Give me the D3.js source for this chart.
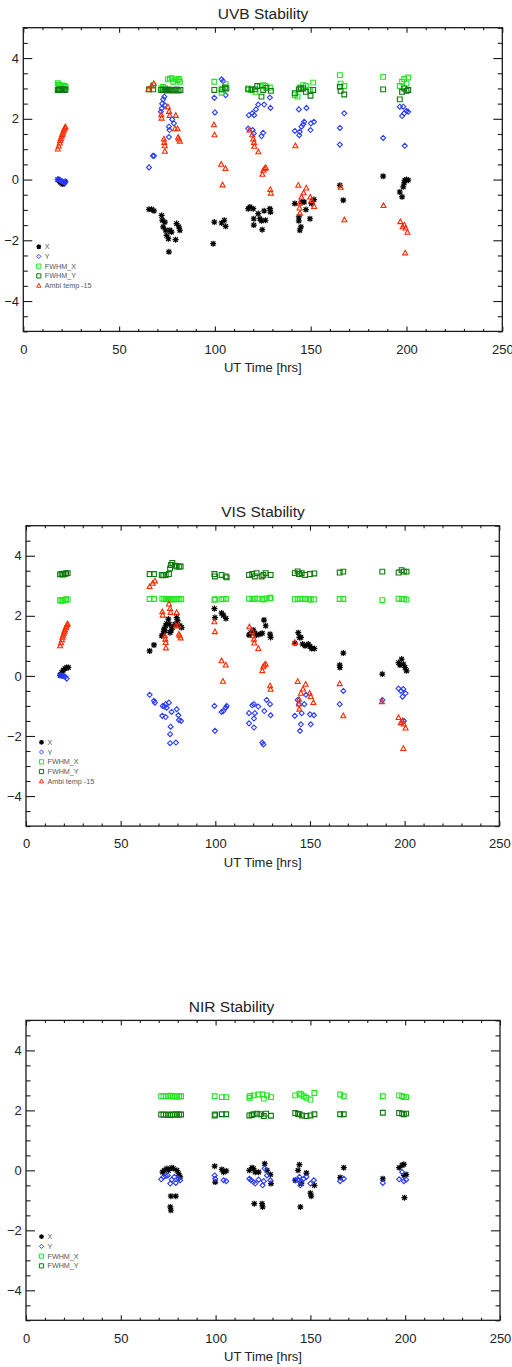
<!DOCTYPE html>
<html>
<head>
<meta charset="utf-8">
<script src="https://cdn.jsdelivr.net/npm/d3@7"></script>
<style>
  body { margin: 0; background: #fff; }
  svg { display: block; font-family: "Liberation Sans", Arial, Helvetica, sans-serif; }
</style>
</head>
<body>
<svg id="chart" width="512" height="1367"></svg>
<script>
// [time (hrs), value] pairs
const ambiTemp = [[18,1.0],[18.5,1.1],[19,1.2],[19.3,1.28],[19.6,1.35],[20,1.42],[20.3,1.48],[20.6,1.53],[21,1.6],[21.3,1.65],[21.7,1.7],[22,1.73],
  [65.3,2.97],[66.9,3.08],[68.1,3.16],
  [72,2.13],[72.2,2.02],[73.4,1.33],[73.6,1.22],[73.8,1.11],[73.9,0.93],[75.5,2.39],[76.1,2.24],[76.4,2.11],[79.2,1.67],[79.6,2.11],[80.5,1.67],[80.8,1.39],[81.2,1.33],[81.7,1.26],
  [99.5,1.8],[99.8,1.47],[103.3,0.5],[104,-0.18],[105.5,0.36],
  [118,1.63],[119.5,1.47],[120,1.33],[120.4,1.22],[120.6,1.09],[122.7,0.91],[124.8,0.17],[125.3,0.3],[125.9,0.36],[126.6,0.39],[128.9,-0.33],[129.2,-0.45],
  [142,1.11],[143.5,-0.19],[144.2,-0.78],[144.2,-0.94],[144.4,-1.11],[145.2,-0.58],[146.3,-0.44],[147.7,-0.28],[149.8,-0.58],[150.4,-0.69],[151.8,-0.89],
  [165.7,-0.26],[167.6,-1.33],
  [188,-0.86],
  [196.8,-1.39],[198,-1.56],[198.9,-1.5],[199.3,-2.42],[199.5,-1.6],[200.5,-1.74]];

const uvbX = [[18,0],[18.7,-0.04],[19.4,-0.08],[20,-0.12],[20.6,-0.15],[21.2,-0.12],[21.8,-0.08],
  [65.6,-0.98],[67,-0.98],[68.2,-1.03],[72.2,-1.18],[72.5,-1.34],[73,-1.56],[73.9,-1.4],[74.3,-1.67],[74.8,-1.84],[75.7,-1.95],[76,-2.38],[76.5,-1.67],[77.4,-1.73],[79.5,-1.98],[80,-1.45],[81.2,-1.56],[81.7,-1.67],
  [99.1,-2.11],[99.7,-1.4],[103.5,-1.43],[104.9,-1.34],[105.6,-1.54],
  [117.4,-0.96],[118.3,-0.9],[120,-0.96],[120.3,-1.29],[120.3,-1.5],[122.6,-1.12],[123.5,-1.29],[124.3,-1.36],[124.7,-1.65],[125.7,-1.03],[126.4,-1.34],[128.7,-0.96],[129,-1.07],
  [141.7,-0.79],[143.8,-1.23],[143.8,-1.36],[144.3,-1.67],[144.9,-1.56],[145.2,-0.74],[146.6,-0.74],[147.5,-0.99],[149.6,-1.29],[150.4,-0.79],[151.7,-0.66],
  [165.2,-0.19],[167,-0.68],
  [187.8,0.11],
  [196.5,-0.41],[197.7,-0.57],[198.3,-0.24],[198.8,-0.11],[199.1,-0.02],[200,0],[200.9,-0.02]];
const uvbY = [[18,0],[18.5,0.01],[19,-0.02],[19.5,-0.03],[20,-0.05],[20.5,-0.07],[21,-0.09],[21.5,-0.1],[22,-0.06],
  [65.6,0.4],[67.7,0.78],[68.2,0.78],[71.8,2.23],[72.2,2.34],[72.5,2.5],[73,2.64],[73.6,2.73],[73.9,2.45],[76,1.74],[76.3,1.63],[76,1.4],[77.7,1.98],[78.6,1.85],
  [99.7,2.69],[100,2.21],[103.5,3.3],[104.3,3.24],[105.6,2.78],
  [117.4,1.68],[117.7,2.12],[119.5,2.18],[119.7,1.63],[120.3,1.52],[120.5,2.12],[121.4,2.31],[122.6,2.47],[124.3,1.43],[125.2,1.54],[125.7,2.47],[128.7,2.7],[129,2.36],
  [141.7,1.6],[143.8,2.31],[144,1.46],[144.3,1.57],[145.2,1.74],[146.1,1.82],[146.6,1.9],[147.8,2.36],[149.9,1.63],[150.1,1.85],[151.7,1.9],
  [165.2,1.7],[165.2,1.15],[167.5,2.18],
  [187.8,1.37],
  [196.5,2.4],[197.7,2.09],[198.3,2.4],[198.8,2.18],[199.1,1.11],[200,2.26],[200.9,2.23]];
const uvbFwhmX = [[18,3.17],[18.6,3.12],[19.2,3.1],[19.8,3.08],[20.4,3.1],[21,3.06],[21.6,3.08],[22,3.05],
  [65.6,2.97],[67.8,3.1],[72,3.0],[73,3.05],[74,3.0],[75.5,3.3],[76.5,3.32],[77.5,3.34],[78.3,3.22],[79.5,3.3],[80.5,3.27],[81.2,3.31],[81.7,3.22],
  [99.7,3.22],[103.5,2.86],[104.3,2.97],[105.6,3.14],
  [117.4,3.0],[119.1,2.95],[121.2,2.89],[123.5,3.08],[125.2,3.11],[126.4,3.08],[128.7,3.03],
  [141.7,2.78],[143.1,2.73],[144.3,3.03],[146.1,3.11],[147.5,3.08],[149.6,2.95],[151.3,3.19],
  [165.2,3.44],[165.6,3.16],[167.5,3.08],
  [187.8,3.38],
  [196.5,3.08],[197.7,3.22],[198.8,3.31],[200,3.16],[200.9,3.36]];
const uvbFwhmY = [[18,2.95],[18.6,2.97],[19.2,2.95],[19.8,2.97],[20.4,2.95],[21,2.97],[21.6,2.95],[22,2.97],
  [65.6,2.97],[67.8,2.97],[72,2.95],[73,2.97],[74,2.95],[75,2.93],[76,2.97],[77,2.95],[78,2.93],[79,2.95],[80,2.97],[81,2.93],[82,2.95],
  [99.7,2.95],[103.5,2.97],[105.2,3.03],[106,3.0],
  [117.4,2.97],[119.1,2.97],[120.9,2.97],[122.1,3.08],[124.3,2.73],[125.2,2.95],[126.9,3.02],[129.2,2.92],
  [141.7,2.84],[143.8,2.97],[144.9,3.0],[146.1,3.0],[147.5,2.89],[149.9,2.76],[151.3,2.95],
  [165.2,3.05],[165.6,2.92],[167.5,2.8],
  [187.8,2.97],
  [196.5,2.64],[197.7,2.89],[198.8,3.0],[200,2.92],[200.9,2.95]];

const visX = [[18,0.02],[18.8,0.11],[19.7,0.19],[20.6,0.24],[21.5,0.28],[22.4,0.28],
  [65.3,0.83],[67.6,1.03],[71.7,1.33],[72.5,1.42],[72.9,1.56],[73.4,1.5],[73.8,1.67],[74.3,1.74],[75.2,1.89],[75.7,1.72],[76.1,1.44],[76.6,1.5],[77.3,1.61],[78.7,1.72],[79.6,1.94],[80.1,1.83],[81.3,1.67],[82.2,1.61],
  [99.5,2.24],[99.8,1.94],[103.3,2.09],[104.2,2.02],[105.6,1.91],
  [117.8,1.36],[118.7,1.44],[120,1.53],[120.9,1.42],[121.8,1.36],[123.6,1.39],[124.8,1.42],[125.7,1.86],[126.6,1.67],[128.9,1.39],[129.2,1.28],
  [142,1.09],[143.8,1.44],[144.4,1.28],[145.2,1.28],[146.1,1.06],[147.4,1.0],[149.1,1.06],[150,0.98],[150.9,0.91],[152.3,0.91],
  [165.7,0.36],[165.8,0.28],[167.6,0.76],
  [188.2,0.06],
  [196.8,0.44],[197.5,0.36],[198.4,0.56],[199.3,0.39],[200.2,0.28],[201,0.17]];
const visY = [[18,0.02],[18.7,0.01],[19.4,0],[20.1,-0.01],[20.8,-0.03],[21.5,-0.09],
  [65.3,-0.63],[67.6,-0.83],[68.1,-0.89],[72,-1.33],[72.2,-1.0],[73.1,-1.02],[73.8,-0.94],[73.8,-1.37],[74.3,-1.06],[75.5,-0.89],[76.1,-1.94],[76.1,-2.24],[76.4,-1.69],[76.9,-1.2],[79.2,-2.22],[79.6,-1.11],[80.5,-1.31],[80.8,-1.47],[81.9,-1.5],
  [99.5,-1.0],[99.8,-1.83],[103.3,-1.2],[104.2,-1.17],[105.5,-1.06],[106,-1.0],
  [117.8,-1.24],[117.8,-1.58],[119.5,-0.98],[120.4,-0.94],[120.4,-1.42],[120.4,-1.72],[120.9,-1.24],[122.7,-1.02],[124.8,-2.22],[125.4,-2.28],[125.9,-1.17],[127.1,-0.8],[128.9,-0.94],[129.2,-1.31],
  [142,-1.33],[143.5,-0.8],[144.2,-0.94],[144.7,-1.83],[145.2,-1.61],[145.6,-1.24],[147,-0.94],[147.9,-0.63],[150,-1.28],[150.4,-1.61],[152.1,-1.31],
  [165.7,-0.94],[167.6,-0.5],
  [188.2,-0.8],
  [196.8,-0.42],[198,-0.5],[198.9,-0.69],[199.3,-0.44],[199.6,-1.5],[200.5,-0.58]];
const visFwhmX = [[18,2.52],[18.8,2.5],[19.6,2.53],[20.4,2.52],[21.2,2.55],[22,2.54],
  [65.3,2.56],[67.6,2.56],[72,2.57],[73,2.56],[74,2.55],[75,2.56],[76,2.55],[77,2.54],[78,2.55],[79,2.56],[80,2.55],[81,2.56],[82,2.55],
  [99.5,2.53],[100,2.55],[103.3,2.55],[104.3,2.56],[105.6,2.56],
  [117.8,2.57],[119.5,2.56],[120.9,2.57],[122.7,2.57],[124.8,2.55],[125.9,2.55],[127.1,2.58],[128.9,2.6],[129.2,2.58],
  [142,2.55],[143.5,2.56],[144.7,2.56],[145.6,2.57],[147.4,2.56],[149.1,2.55],[150.4,2.54],[152.1,2.55],
  [165.7,2.56],[167.6,2.56],
  [188.2,2.52],
  [196.8,2.57],[198.4,2.56],[199.6,2.56],[201,2.54]];
const visFwhmY = [[18,3.38],[18.8,3.39],[19.6,3.37],[20.4,3.4],[21.2,3.41],[22,3.42],
  [65.3,3.39],[67.6,3.39],[71.7,3.36],[72.5,3.35],[73.8,3.36],[75.5,3.39],[76.1,3.58],[76.6,3.69],[77.3,3.76],[78.7,3.67],[79.6,3.64],[80.8,3.64],[81.7,3.64],
  [99.5,3.39],[99.8,3.31],[103.3,3.36],[105.5,3.31],[106,3.28],
  [117.8,3.36],[119.5,3.39],[120.9,3.31],[121.8,3.42],[124.5,3.31],[125.4,3.36],[126.6,3.42],[129.2,3.36],
  [142,3.42],[143.5,3.48],[144.2,3.39],[145.6,3.42],[147.4,3.36],[150,3.39],[152.3,3.41],
  [165.7,3.44],[167.6,3.47],
  [188.2,3.47],
  [196.8,3.44],[198.4,3.52],[199.6,3.47],[201,3.47]];

const nirX = [[72,-0.06],[72.9,0],[74.3,0.06],[75.2,0],[76.1,-1.22],[76.4,-1.33],[76.4,-0.86],[76.9,0.09],[77.8,0.06],[79,-0.86],[79.6,0],[80.5,-0.11],[81.3,-0.22],
  [99.5,0.14],[99.8,-0.39],[103.3,0.03],[104.2,-0.06],[105.6,-0.02],
  [117.8,0],[119.2,0.09],[120,0.06],[120.4,-1.11],[120.9,-0.06],[122.7,-0.06],[124.5,-1.11],[124.8,-1.22],[125.9,0.22],[127.1,0],[128.9,-0.14],[129.2,-0.44],
  [142,-0.33],[143.5,0],[144.2,0.19],[144.7,-1.22],[145.2,-0.44],[147.9,-0.09],[150,-0.76],[150.4,-0.86],[152.1,-0.5],
  [165.7,-0.24],[167.6,0.09],
  [188.2,-0.28],
  [196.8,0.09],[198.4,0.17],[199.3,0.2],[199.3,-0.17],[199.6,-0.91],[200.5,-0.14]];
const nirY = [[71.3,-0.3],[72.5,-0.22],[73.8,-0.19],[74.8,-0.17],[76.1,-0.44],[76.9,-0.31],[78.2,-0.22],[79,-0.42],[80.5,-0.28],[81.3,-0.33],
  [99.5,-0.17],[99.8,-0.28],[104.2,-0.33],[105.6,-0.36],
  [117.8,-0.28],[118.7,-0.33],[120,-0.39],[120.9,-0.44],[122.7,-0.31],[124.8,-0.5],[125.4,-0.36],[125.9,0.06],[127.1,-0.17],[128.9,-0.33],
  [142,-0.33],[143.5,-0.31],[144.2,-0.22],[144.7,-0.5],[145.2,-0.39],[146.5,-0.28],[147.9,-0.22],[150,-0.44],[151.8,-0.33],
  [165.7,-0.36],[167.6,-0.28],
  [188.2,-0.42],
  [196.8,-0.3],[198.4,-0.06],[199.3,-0.36],[200.5,-0.31]];
const nirFwhmX = [[71.3,2.47],[72.5,2.47],[73.8,2.48],[75,2.47],[76.1,2.49],[77.3,2.47],[78.5,2.46],[79.6,2.47],[80.8,2.46],[81.8,2.47],
  [99.5,2.47],[103.3,2.44],[105.6,2.44],
  [117.8,2.42],[118.2,2.48],[120,2.5],[122.7,2.53],[124.8,2.53],[125.4,2.39],[127.1,2.5],[129.2,2.44],
  [142,2.5],[144.2,2.56],[145.2,2.53],[146.5,2.47],[147.9,2.42],[150,2.36],[152.1,2.58],
  [165.7,2.53],[167.6,2.47],
  [188.2,2.47],
  [196.8,2.5],[198.4,2.47],[199.3,2.44],[200.5,2.44]];
const nirFwhmY = [[71.3,1.86],[72.5,1.86],[73.8,1.85],[75,1.86],[76.1,1.84],[77.3,1.86],[78.5,1.86],[79.6,1.86],[80.8,1.86],[81.8,1.86],
  [99.5,1.83],[99.8,1.86],[103.3,1.87],[105.6,1.87],
  [117.8,1.83],[119,1.84],[120,1.87],[121.8,1.89],[123.6,1.87],[125.4,1.81],[126.6,1.89],[129.2,1.82],
  [142,1.91],[143.5,1.88],[144.2,1.87],[145.6,1.83],[147.9,1.81],[150,1.83],[152.1,1.87],
  [165.7,1.87],[167.6,1.87],
  [188.2,1.92],
  [196.8,1.91],[198.4,1.89],[199.3,1.87],[200.5,1.89]];

const xTicks = [0, 50, 100, 150, 200, 250];
const yTicks = [-4, -2, 0, 2, 4];
const seriesNames = ["X", "Y", "FWHM_X", "FWHM_Y", "Ambi temp -15"];

// marker styles, in legend order
const styles = {
  "X":             {shape: "star",     color: "#000000"},
  "Y":             {shape: "diamond",  color: "#2a3cff"},
  "FWHM_X":        {shape: "square",   color: "#22e622"},
  "FWHM_Y":        {shape: "square",   color: "#0b7a0b"},
  "Ambi temp -15": {shape: "triangle", color: "#ff2a00"}
};

function markerPath(shape, s) {
  if (shape === "star") {
    const d = s * 0.75;
    return `M${-s},0H${s}M0,${-s}V${s}M${-d},${-d}L${d},${d}M${-d},${d}L${d},${-d}`;
  }
  if (shape === "diamond") return `M0,${-s}L${s},0L0,${s}L${-s},0Z`;
  if (shape === "square") return `M${-s},${-s}H${s}V${s}H${-s}Z`;
  return `M0,${-s * 1.1}L${s},${s * 0.75}L${-s},${s * 0.75}Z`;
}

const panels = [
  {title: "UVB Stability", left: 23.3, right: 502.3, top: 27.7, bottom: 331.4, titleX: 263,
   series: {"X": uvbX, "Y": uvbY, "FWHM_X": uvbFwhmX, "FWHM_Y": uvbFwhmY, "Ambi temp -15": ambiTemp}},
  {title: "VIS Stability", left: 26, right: 499.3, top: 525.7, bottom: 826.1, titleX: 263,
   series: {"X": visX, "Y": visY, "FWHM_X": visFwhmX, "FWHM_Y": visFwhmY, "Ambi temp -15": ambiTemp}},
  {title: "NIR Stability", left: 26, right: 500, top: 1020.4, bottom: 1320.3, titleX: 231.5,
   series: {"X": nirX, "Y": nirY, "FWHM_X": nirFwhmX, "FWHM_Y": nirFwhmY}}
];

const svg = d3.select("#chart");
const axisColor = "#1a1a1a";

panels.forEach(p => {
  const g = svg.append("g");
  const x = d3.scaleLinear().domain([0, 250]).range([p.left, p.right]);
  const y = d3.scaleLinear().domain([-5, 5]).range([p.bottom, p.top]);
  const w = p.right - p.left, h = p.bottom - p.top;

  // ticks on all four sides, IDL style
  const bottomAxis = d3.axisBottom(x).tickValues(xTicks).tickSize(-5).tickFormat(d3.format("d")).tickPadding(13);
  const topAxis = d3.axisTop(x).tickValues(xTicks).tickSize(-5).tickFormat("");
  const leftAxis = d3.axisLeft(y).tickValues(yTicks).tickSize(-9).tickFormat(d3.format("d")).tickPadding(4.3);
  const rightAxis = d3.axisRight(y).tickValues(yTicks).tickSize(-9).tickFormat("");

  const xMinor = d3.range(0, 251, 10).filter(v => v % 50 !== 0);
  const yMinor = d3.range(-5, 5.01, 0.5).filter(v => Math.abs(v % 2) > 1e-9);
  const bMinor = d3.axisBottom(x).tickValues(xMinor).tickSize(-2.5).tickFormat("");
  const tMinor = d3.axisTop(x).tickValues(xMinor).tickSize(-2.5).tickFormat("");
  const lMinor = d3.axisLeft(y).tickValues(yMinor).tickSize(-4.5).tickFormat("");
  const rMinor = d3.axisRight(y).tickValues(yMinor).tickSize(-4.5).tickFormat("");

  [[bottomAxis, 0, p.bottom], [bMinor, 0, p.bottom], [topAxis, 0, p.top], [tMinor, 0, p.top],
   [leftAxis, p.left, 0], [lMinor, p.left, 0], [rightAxis, p.right, 0], [rMinor, p.right, 0]]
    .forEach(([ax, tx, ty]) => {
      const a = g.append("g").attr("transform", `translate(${tx},${ty})`).call(ax);
      a.select(".domain").remove();
      a.selectAll(".tick line").attr("stroke", axisColor).attr("stroke-width", 1.1);
      a.selectAll(".tick text").attr("fill", "#222").attr("font-size", 13);
    });

  g.append("rect")
    .attr("x", p.left).attr("y", p.top).attr("width", w).attr("height", h)
    .attr("fill", "none").attr("stroke", axisColor).attr("stroke-width", 1.3);

  g.append("text")
    .attr("x", p.titleX).attr("y", p.top - 8.5)
    .attr("text-anchor", "middle").attr("font-size", 15.5).attr("fill", "#222")
    .text(p.title);

  g.append("text")
    .attr("x", (p.left + p.right) / 2).attr("y", p.bottom + 41)
    .attr("text-anchor", "middle").attr("font-size", 13).attr("fill", "#222")
    .text("UT Time [hrs]");

  // points
  const names = seriesNames.filter(n => p.series[n]);
  names.forEach(n => {
    const st = styles[n];
    const size = st.shape === "star" ? 3 : (st.shape === "square" ? 2.4 : 2.5);
    g.append("g").selectAll("path")
      .data(p.series[n])
      .join("path")
      .attr("transform", d => `translate(${x(d[0])},${y(d[1])})`)
      .attr("d", markerPath(st.shape, size))
      .attr("fill", "none")
      .attr("stroke", st.color)
      .attr("stroke-width", st.shape === "star" ? 1.2 : 1.1);
  });

  // legend
  const leg = g.append("g");
  names.forEach((n, i) => {
    const st = styles[n];
    const ly = p.top + 0.721 * h + i * 9.75;
    const lx = p.left + 15.5;
    leg.append("path")
      .attr("transform", `translate(${lx},${ly})`)
      .attr("d", markerPath(st.shape, st.shape === "star" ? 2.4 : 2.1))
      .attr("fill", "none").attr("stroke", st.color)
      .attr("stroke-width", st.shape === "star" ? 1.2 : 1);
    leg.append("text")
      .attr("x", lx + 6).attr("y", ly + 2.5)
      .attr("font-size", 7.2).attr("fill", "#555")
      .text(n);
  });
});
</script>
</body>
</html>
